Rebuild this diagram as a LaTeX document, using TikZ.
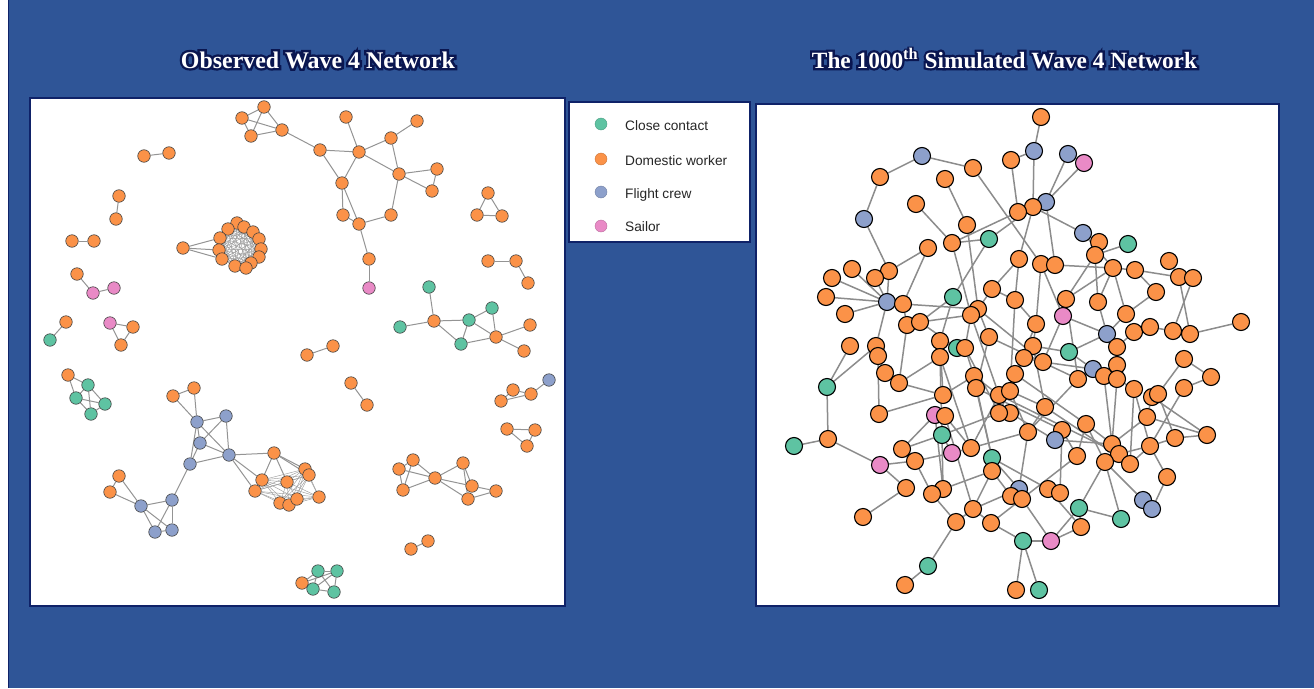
\documentclass[tikz,border=0pt]{standalone}
\usepackage{fontspec}
\setmainfont{Liberation Serif}
\newfontfamily\glowfont{Liberation Serif}[BoldFeatures={FakeBold=20}]
\newfontfamily\legfont{Liberation Sans}
\pgfdeclarelayer{back}
\pgfdeclarelayer{edges}
\pgfsetlayers{back,edges,main}
\definecolor{bgblue}{HTML}{2F5597}
\definecolor{navy}{HTML}{0F2268}
\definecolor{glow}{HTML}{0A1650}
\definecolor{cc}{HTML}{5EC3A2}
\definecolor{dw}{HTML}{FB9248}
\definecolor{fc}{HTML}{8DA0CB}
\definecolor{sl}{HTML}{E98AC6}
\tikzset{
  lnd/.style={circle, draw=black!75, line width=0.6pt, fill=#1, minimum size=12.5pt, inner sep=0pt},
  rnd/.style={circle, draw=black, line width=1.1pt, fill=#1, minimum size=17pt, inner sep=0pt},
  led/.style={draw=black!42, line width=1pt},
  mesh/.style={draw=black!38, line width=0.45pt},
  red/.style={draw=black!45, line width=1.5pt},
  panel/.style={fill=white, draw=navy, line width=2.6pt},
  ttl/.style={anchor=base, inner sep=0pt},
  legdot/.style={circle, fill=#1, draw=#1!80!black, line width=0.4pt, minimum size=12pt, inner sep=0pt},
  legtxt/.style={anchor=base west, inner sep=0pt, font=\legfont\fontsize{13.7}{15}\selectfont, text=black!85}
}
% white bold heading with a dark outline drawn underneath it
\newcommand\titletext[2]{%
  \resizebox{#1}{!}{\fontsize{10}{12}\selectfont
    \makebox[0pt][l]{\glowfont\bfseries\color{glow}#2}{\bfseries\color{white}#2}}}
\begin{document}
\begin{tikzpicture}[x=1pt, y=-1pt]
\useasboundingbox (0,0) rectangle (1314,688);
\begin{pgfonlayer}{back}
  \fill[white] (0,0) rectangle (1314,688);
  \fill[bgblue] (8,0) rectangle (1314,688);
  \draw[navy, line width=1.5pt] (8.5,0) -- (8.5,688);
  % the three white panels
  \draw[panel] (30,98) rectangle (565,606);
  \draw[panel] (569,102) rectangle (750,242);
  \draw[panel] (756,104) rectangle (1279,606);
\end{pgfonlayer}

% titles
\node[ttl] (title1) at (318,68) {\titletext{274pt}{Observed Wave 4 Network}};
\node[ttl] (title2) at (1004.5,68) {\titletext{385pt}{The 1000\textsuperscript{th} Simulated Wave 4 Network}};

% legend
\node[legdot=cc] (k1) at (601,124) {};
\node[legdot=dw] (k2) at (601,159) {};
\node[legdot=fc] (k3) at (601,192) {};
\node[legdot=sl] (k4) at (601,226) {};
\node[legtxt] (t1) at (625,130.7) {Close contact};
\node[legtxt] (t2) at (625,165) {Domestic worker};
\node[legtxt] (t3) at (625,198) {Flight crew};
\node[legtxt] (t4) at (625,231.7) {Sailor};

% ---------- observed network ----------
\foreach \n/\px/\py/\c in {
a1/264/107/dw, a2/242/118/dw, a3/251/136/dw, a4/282/130/dw,
b1/346/117/dw, b2/417/121/dw, b3/320/150/dw, b4/359/152/dw, b5/391/138/dw, b6/399/174/dw, b7/437/169/dw, b8/432/191/dw, b9/342/183/dw, b10/343/215/dw, b11/359/224/dw, b12/391/215/dw, b13/369/259/dw, b14/369/288/sl,
c1/144/156/dw, c2/169/153/dw, c3/119/196/dw, c4/116/219/dw, c5/72/241/dw, c6/94/241/dw, c7/77/274/dw, c8/93/293/sl, c9/114/288/sl, c10/66/322/dw, c11/50/340/cc, c12/110/323/sl, c13/133/327/dw, c14/121/345/dw,
d0/183/248/dw,
d1/237/223/dw, d2/244/227/dw, d3/228/229/dw, d4/253/232/dw, d5/259/239/dw, d6/220/238/dw, d7/261/249/dw, d8/219/250/dw, d9/259/257/dw, d10/222/259/dw, d11/251/263/dw, d12/235/266/dw, d13/246/268/dw,
e1/488/193/dw, e2/477/215/dw, e3/502/216/dw, e4/488/261/dw, e5/516/261/dw, e6/528/283/dw,
f1/429/287/cc, f2/434/321/dw, f3/400/327/cc, f4/469/320/cc, f5/492/308/cc, f6/461/344/cc, f7/496/337/dw, f8/530/325/dw, f9/524/351/dw,
g1/307/355/dw, g2/333/346/dw,
h1/68/375/dw, h2/88/385/cc, h3/76/398/cc, h4/105/404/cc, h5/91/414/cc,
i1/173/396/dw, i2/194/388/dw, i3/197/422/fc, i4/226/416/fc, i5/200/443/fc, i6/229/455/fc, i7/190/464/fc, i8/172/500/fc, i9/119/476/dw, i10/110/492/dw, i11/141/506/fc, i12/155/532/fc, i13/172/530/fc,
j1/274/453/dw, j2/262/480/dw, j3/255/491/dw, j4/287/482/dw, j5/280/503/dw, j6/289/505/dw, j7/297/499/dw, j8/305/469/dw, j9/309/475/dw, j10/319/497/dw,
k1/351/383/dw, k2/367/405/dw,
m1/513/390/dw, m2/501/401/dw, m3/531/394/dw, m4/549/380/fc, m5/507/429/dw, m6/535/430/dw, m7/527/446/dw,
n1/413/460/dw, n2/399/469/dw, n3/403/490/dw, n4/435/478/dw, n5/463/463/dw, n6/472/486/dw, n7/468/499/dw, n8/496/491/dw,
p1/411/549/dw, p2/428/541/dw,
q1/302/583/dw, q2/318/571/cc, q3/337/571/cc, q4/313/589/cc, q5/334/592/cc}
  \node[lnd=\c] (\n) at (\px,\py) {};

\begin{pgfonlayer}{edges}
\foreach \a/\b in {
a1/a2, a1/a3, a2/a3, a3/a4, a1/a4, a2/a4, a4/b3,
b1/b4, b2/b5, b3/b4, b4/b5, b4/b6, b4/b9, b3/b9, b5/b6, b6/b7, b6/b8, b7/b8, b9/b10, b9/b11, b10/b11, b11/b12, b12/b6, b11/b13, b13/b14,
c1/c2, c3/c4, c5/c6, c7/c8, c8/c9, c10/c11, c12/c13, c12/c14, c13/c14,
d0/d6, d0/d8, d0/d10,
e1/e2, e1/e3, e2/e3, e4/e5, e5/e6,
f1/f2, f3/f2, f2/f4, f2/f6, f4/f5, f4/f6, f4/f7, f5/f7, f6/f7, f7/f8, f7/f9,
g1/g2,
h1/h2, h1/h3, h2/h3, h2/h4, h2/h5, h3/h4, h3/h5, h4/h5,
i1/i2, i1/i3, i2/i3, i3/i4, i3/i5, i3/i6, i4/i6, i4/i5, i5/i6, i5/i7, i3/i7, i7/i6, i7/i8,
i9/i10, i9/i11, i10/i11, i11/i8, i11/i12, i11/i13, i8/i12, i8/i13, i12/i13,
i6/j1, i6/j2, i6/j3, j1/j2, j1/j4, j1/j8, j1/j9,
k1/k2,
m1/m2, m2/m3, m1/m3, m3/m4, m5/m6, m5/m7, m6/m7,
n1/n2, n1/n3, n2/n3, n1/n4, n2/n4, n3/n4, n4/n5, n4/n6, n4/n7, n5/n6, n5/n7, n6/n8, n7/n8,
p1/p2,
q1/q2, q1/q4, q1/q3, q2/q3, q2/q4, q2/q5, q3/q4, q3/q5, q4/q5}
  \draw[led] (\a) -- (\b);
\foreach \i in {1,...,13}{\foreach \j in {\i,...,13}{\ifnum\i<\j \draw[mesh] (d\i) -- (d\j);\fi}}
\foreach \i in {2,...,10}{\foreach \j in {\i,...,10}{\ifnum\i<\j \draw[mesh] (j\i) -- (j\j);\fi}}
\end{pgfonlayer}

% ---------- simulated network ----------
\foreach \n/\px/\py/\c in {
1/1041/117/dw, 2/1034/151/fc, 3/1011/160/dw, 4/1068/154/fc, 5/1084/163/sl, 6/922/156/fc, 7/880/177/dw, 8/973/168/dw, 9/945/179/dw, 10/864/219/fc,
11/916/204/dw, 12/1046/202/fc, 13/1033/207/dw, 14/1018/212/dw, 15/967/225/dw, 16/1083/233/fc, 17/989/239/cc, 18/952/243/dw, 19/928/248/dw, 20/1099/242/dw,
21/1128/244/cc, 22/1095/255/dw, 23/1019/259/dw, 24/1041/264/dw, 25/1055/265/dw, 26/1113/268/dw, 27/1135/270/dw, 28/1169/261/dw, 29/1179/277/dw, 30/1193/278/dw,
31/889/271/dw, 32/875/278/dw, 33/852/269/dw, 34/832/278/dw, 35/826/297/dw, 36/887/302/fc, 37/903/304/dw, 38/953/297/cc, 39/992/289/dw, 40/1156/292/dw,
41/1015/300/dw, 42/1066/299/dw, 43/1098/302/dw, 44/978/309/dw, 45/971/315/dw, 46/845/314/dw, 47/907/325/dw, 48/920/322/dw, 49/1063/316/sl, 50/1126/314/dw,
51/1036/324/dw, 52/1107/334/fc, 53/1134/332/dw, 54/1150/327/dw, 55/1173/331/dw, 56/1190/334/dw, 57/1241/322/dw, 58/989/337/dw, 59/940/341/dw, 60/850/346/dw,
61/876/346/dw, 62/878/356/dw, 63/957/348/cc, 64/965/348/dw, 65/940/357/dw, 66/1033/346/dw, 67/1069/352/cc, 68/1117/347/dw, 69/1024/358/dw, 70/1043/362/dw,
71/1184/359/dw, 72/885/373/dw, 73/899/383/dw, 74/974/376/dw, 75/976/388/dw, 76/999/395/dw, 77/943/395/dw, 78/1093/369/fc, 79/1104/376/dw, 80/1117/365/dw,
81/1117/379/dw, 82/1078/379/dw, 83/1184/388/dw, 84/1211/377/dw, 85/1134/389/dw, 86/1152/397/dw, 87/1158/394/dw, 88/1015/374/dw, 89/1010/391/dw,
91/1045/407/dw, 92/1010/413/dw, 93/999/413/dw, 94/1147/417/dw, 95/879/414/dw, 96/935/415/sl, 97/945/416/dw, 98/1086/424/dw, 99/1028/432/dw, 100/1062/430/dw,
101/1055/440/fc, 102/1175/438/dw, 103/1207/435/dw, 104/942/435/cc, 105/827/387/cc, 106/828/439/dw, 107/794/446/cc, 108/1112/444/dw, 109/1150/446/dw, 110/902/449/dw,
111/971/448/dw, 112/952/453/sl, 113/1119/454/dw, 114/1077/456/dw, 115/992/458/cc, 116/915/461/dw, 117/1105/462/dw, 118/1130/464/dw, 119/880/465/sl, 120/992/471/dw,
121/1167/477/dw, 122/906/488/dw, 123/943/489/dw, 124/932/494/dw, 125/1019/489/fc, 126/1011/496/dw, 127/1022/499/dw, 128/1048/489/dw, 129/1060/493/dw, 130/1143/500/fc,
131/1152/509/fc, 132/1079/508/cc, 133/973/509/dw, 134/863/517/dw, 135/1121/519/cc, 136/956/522/dw, 137/991/523/dw, 138/1081/527/dw, 139/1023/541/cc, 140/1051/541/sl,
141/928/566/cc, 142/905/585/dw, 143/1016/590/dw, 144/1039/590/cc}
  \node[rnd=\c] (r\n) at (\px,\py) {};

\begin{pgfonlayer}{edges}
\foreach \a/\b in {
1/2, 2/3, 2/13, 4/12, 5/12, 3/14, 6/7, 6/8, 7/10, 10/31, 8/24, 9/15, 11/18, 18/17, 18/14, 19/31, 19/37, 15/44, 18/45, 13/17,
12/25, 13/16, 13/23, 16/26, 20/22, 22/21, 22/42, 22/43, 26/27, 27/29, 28/29, 26/42, 26/43, 26/50, 25/26, 24/25, 24/49, 23/41, 27/40, 40/50,
30/55, 29/56, 56/57, 55/54, 54/53, 53/68, 52/49, 52/67, 50/52, 33/36, 34/36, 35/36, 46/36, 31/36, 36/61, 32/36, 37/44, 37/47, 38/59, 39/44,
39/41, 45/48, 47/48, 45/64, 44/58, 59/63, 63/64, 60/105, 61/105, 41/51, 43/52, 51/66, 67/78, 67/66, 68/80, 69/70, 70/78, 78/82, 78/79, 79/80,
80/81, 81/85, 71/84, 83/84, 87/86, 86/103, 83/109, 109/102, 109/121, 109/118, 113/109, 108/94, 108/113, 108/98, 108/81, 101/108, 101/92, 125/126, 125/127, 125/99,
127/140, 128/129, 129/100, 139/143, 139/144, 139/140, 140/138, 140/132, 132/135, 132/117, 135/117, 130/117, 130/131, 72/62, 73/77, 73/65, 95/77, 110/96, 96/97, 104/93,
104/123, 123/120, 112/111, 119/116, 119/122, 119/106, 106/105, 106/107, 122/134, 116/124, 116/112, 133/136, 136/141, 141/142, 133/137, 74/76, 88/89, 89/91, 91/99, 92/93,
77/74, 64/74, 58/75, 44/70, 45/76, 58/82, 64/93, 75/100, 76/113, 91/118, 100/114, 114/137, 120/126, 115/128, 111/99, 133/125, 137/139, 97/133, 103/94, 102/87,
94/86, 82/99, 85/118, 17/38, 38/48, 48/63, 47/73, 59/77, 65/104, 97/111, 75/115, 120/133, 112/104, 111/76, 115/125, 96/123, 123/124, 138/128, 132/138, 114/98,
113/118, 121/131, 102/103, 71/87, 100/101, 51/88, 66/91, 41/89, 69/93, 88/98,
42/82, 24/51, 23/39, 49/70, 62/95, 65/111, 74/115, 89/99, 98/117, 79/108, 85/109, 124/136, 104/110}
  \draw[red] (r\a) -- (r\b);
\end{pgfonlayer}
\end{tikzpicture}
\end{document}
